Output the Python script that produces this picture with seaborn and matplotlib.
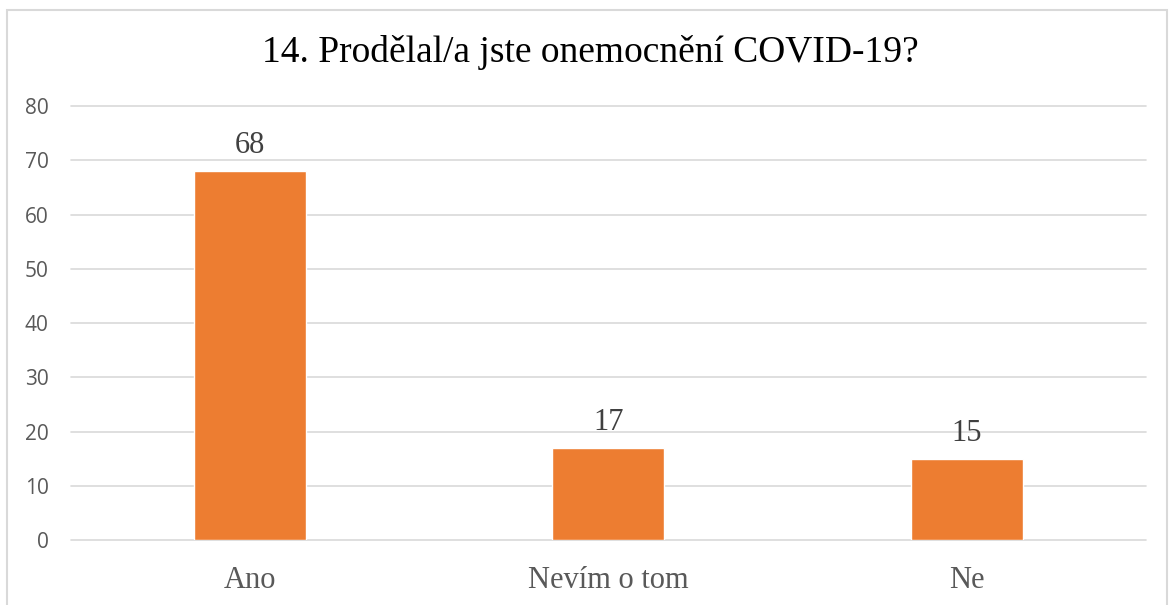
import matplotlib
matplotlib.use("Agg")
import matplotlib.pyplot as plt
import pandas as pd
import seaborn as sns
from matplotlib.patches import Rectangle

categories = ["Ano", "Nevím o tom", "Ne"]
counts = [68, 17, 15]
y_ticks = [0, 10, 20, 30, 40, 50, 60, 70, 80]
title = "14. Prodělal/a jste onemocnění COVID-19?"

df = pd.DataFrame({"answer": categories, "count": counts})

sns.set_theme(style="white")
plt.rcParams["font.family"] = ["Liberation Serif", "DejaVu Serif"]

fig = plt.figure(figsize=(11.74, 6.05), dpi=100)
ax = fig.add_axes([0.0605, 0.1074, 0.9155, 0.7174])

sns.barplot(data=df, x="answer", y="count", color="#ED7D31", width=0.313,
            saturation=1, ax=ax, zorder=3)

ax.set_ylim(0, 80)
ax.set_xlim(-0.5, 2.5)
ax.set_yticks(y_ticks)
ax.yaxis.grid(True, color="#D9D9D9", linewidth=1.2, zorder=0)
for gl in ax.get_ygridlines():
    gl.set_clip_on(False)
ax.set_axisbelow(True)
for s in ax.spines.values():
    s.set_visible(False)
ax.set_xlabel("")
ax.set_ylabel("")
ax.tick_params(axis="both", length=0)
ax.tick_params(axis="x", pad=19)
ax.tick_params(axis="y", pad=16)
for lab in ax.get_yticklabels():
    lab.set_fontfamily("Open Sans")
    lab.set_fontsize(15)
    lab.set_color("#595959")
for lab in ax.get_xticklabels():
    lab.set_fontfamily("Liberation Serif")
    lab.set_fontsize(22)
    lab.set_color("#595959")

for i, v in enumerate(counts):
    ax.annotate(str(v), (i, v), xytext=(0, 8), textcoords="offset points",
                ha="center", va="bottom", fontsize=22, color="#404040",
                family="Liberation Serif")

fig.text(0.503, 0.913, title, ha="center", va="center", fontsize=27,
         color="black", family="Liberation Serif")

fig.patches.append(Rectangle((7 / 1174, -0.05), 1160 / 1174, 1 - 10 / 605 + 0.05,
                             transform=fig.transFigure, fill=False,
                             edgecolor="#D9D9D9", linewidth=1.5))

fig.savefig("out.png", dpi=100, facecolor="white")
